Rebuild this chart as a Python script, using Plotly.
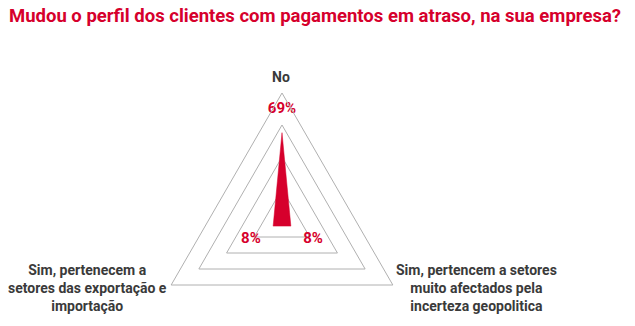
import plotly.graph_objects as go

# Survey answers (radar axes) and their shares, in percent
categories = [
    "No",
    "Sim, pertencem a setores<br>muito afectados pela<br>incerteza geopolitica",
    "Sim, pertenecem a<br>setores das exportação e<br>importação",
]
values = [69, 8, 8]
title_text = "Mudou o perfil dos clientes com pagamentos em atraso, na sua empresa?"

RED = "#d6002c"
GRID = "#b0b0b0"
DARK = "#3a3a3a"
FONT = "Roboto, 'Open Sans', sans-serif"

W, H = 635, 360
CX, CY, R = 282, 221, 128  # centre and outer radius of the radar, in px


def px_x(x):
    return x / W


def px_y(y):
    return (H - y) / H


fig = go.Figure()

# Filled radar polygon
fig.add_trace(go.Scatterpolar(
    r=values + values[:1],
    theta=categories + categories[:1],
    mode="lines",
    fill="toself",
    fillcolor=RED,
    line=dict(color=RED, width=0.5),
    hoverinfo="skip",
    showlegend=False,
))

# Percentage labels placed along each axis
label_r = [87.5, 28, 28]
fig.add_trace(go.Scatterpolar(
    r=label_r,
    theta=categories,
    mode="text",
    text=[f"{v}%" for v in values],
    textposition="middle center",
    textfont=dict(family=FONT, size=15, color=RED, weight="bold"),
    hoverinfo="skip",
    showlegend=False,
))

fig.update_layout(
    width=W,
    height=H,
    margin=dict(l=0, r=0, t=0, b=0),
    paper_bgcolor="white",
    plot_bgcolor="white",
    showlegend=False,
    title=dict(
        text=title_text,
        font=dict(family=FONT, size=18.5, color=RED, weight="bold"),
        x=9 / W, xref="container", xanchor="left",
        y=1 - 16 / H, yref="container", yanchor="middle",
    ),
    polar=dict(
        domain=dict(x=[px_x(CX - R), px_x(CX + R)],
                    y=[px_y(CY + R), px_y(CY - R)]),
        gridshape="linear",
        bgcolor="white",
        radialaxis=dict(
            range=[0, 100],
            tickvals=[25, 50, 75],
            showgrid=True,
            gridcolor=GRID,
            gridwidth=1,
            showline=False,
            showticklabels=False,
            ticks="",
        ),
        angularaxis=dict(
            rotation=90,
            direction="clockwise",
            showline=True,
            linecolor=GRID,
            linewidth=1,
            showgrid=False,
            showticklabels=False,
            ticks="",
        ),
    ),
)

# Axis names
label_pos = [(281, 77), (476, 288), (87, 288)]
for name, (x, y) in zip(categories, label_pos):
    fig.add_annotation(
        text=name,
        x=px_x(x), y=px_y(y), xref="paper", yref="paper",
        xanchor="center", yanchor="middle", align="center",
        showarrow=False,
        font=dict(family=FONT, size=14, color=DARK, weight="bold"),
    )

fig.write_html(
    "out.html",
    post_script="document.documentElement.style.overflow='hidden';"
                "document.body.style.overflow='hidden';",
)
